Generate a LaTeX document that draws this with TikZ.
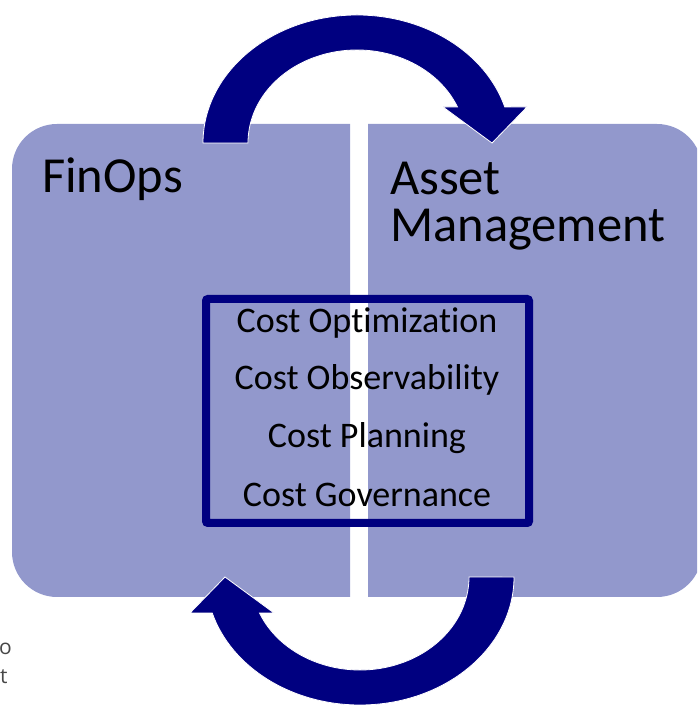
\documentclass[tikz,border=0pt]{standalone}
\usepackage{fontspec}
\setmainfont[Ligatures={NoCommon}]{Carlito}
\newfontfamily\fragfont{Open Sans}
\definecolor{panelc}{RGB}{146,152,204}
\definecolor{navyc}{RGB}{0,0,128}
\begin{document}
\begin{tikzpicture}[x=1pt,y=1pt,
  panelbox/.style={fill=panelc, draw=none},
  bigarrow/.style={fill=navyc, draw=white, line width=0.8pt},
  titletext/.style={anchor=base west, inner sep=0pt, font=\fontsize{50.5}{50.5}\selectfont},
  itemtext/.style={anchor=base, inner sep=0pt, font=\fontsize{36}{36}\selectfont},
  fragtext/.style={anchor=base west, inner sep=0pt, text=black!72, font=\fragfont\fontsize{21}{21}\selectfont},
  framebox/.style={draw=navyc, line width=8pt, rounded corners=2pt, inner sep=0pt}]
\useasboundingbox (0,0) rectangle (697,706);
\clip (0,0) rectangle (697,706);
% panels
\path[panelbox] (350,109) -- (57,109) arc[start angle=270, end angle=180, radius=45]
  -- (12,537) arc[start angle=180, end angle=90, radius=45] -- (350,582) -- cycle;
\path[panelbox] (368,109) -- (657,109) arc[start angle=-90, end angle=0, radius=45]
  -- (702,537) arc[start angle=0, end angle=90, radius=45] -- (368,582) -- cycle;
% top arrow
\path[bigarrow] (203,563) arc[start angle=180, end angle=16.33, x radius=154, y radius=128]
  -- (527,599) -- (492,563) -- (443,599) -- (457.5,599)
  arc[start angle=22.77, end angle=180, x radius=109, y radius=93] -- cycle;
% bottom arrow
\begin{scope}[rotate around={180:(358.5,346)}]
\path[bigarrow] (203,563) arc[start angle=180, end angle=16.33, x radius=154, y radius=128]
  -- (527,599) -- (492,563) -- (443,599) -- (457.5,599)
  arc[start angle=22.77, end angle=180, x radius=109, y radius=93] -- cycle;
\end{scope}
% inner frame
\node[framebox, minimum width=323pt, minimum height=224pt] (frame) at (367.5,295) {};
% titles
\node[titletext] (finops) at (42,513) {FinOps};
\node[titletext] (asset) at (390,511) {Asset};
\node[titletext] (mgmt) at (390,464) {Management};
% items
\node[itemtext] (opt) at (367,373) {Cost Optimization};
\node[itemtext] (obs) at (367,316) {Cost Observability};
\node[itemtext] (plan) at (367,258) {Cost Planning};
\node[itemtext] (gov) at (367,199) {Cost Governance};
% clipped fragments
\node[fragtext] (fragA) at (-1,51) {o};
\node[fragtext] (fragB) at (0,22) {t};
\end{tikzpicture}
\end{document}
